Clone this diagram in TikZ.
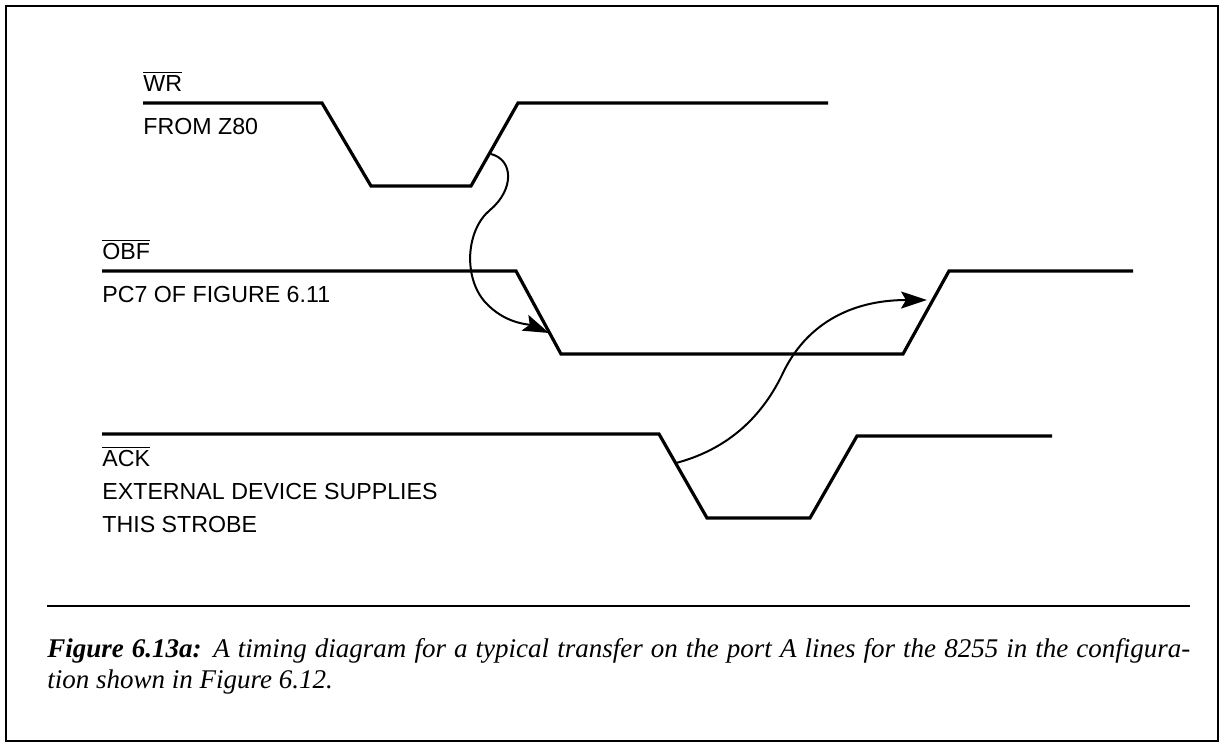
\documentclass[tikz,border=0pt]{standalone}
\usepackage{fontspec}
\setmainfont{Liberation Sans}
\newfontfamily\capfont{Liberation Serif}
\usetikzlibrary{arrows.meta}
\newcommand\ovl[1]{$\overline{\mbox{#1}}$}
\begin{document}
\begin{tikzpicture}[x=0.5pt,y=-0.5pt,
  sig/.style={line width=1.6pt, line join=miter},
  lbl/.style={anchor=base west, inner sep=0pt, font=\fontsize{11.6}{13}\selectfont},
  caption/.style={anchor=base west, inner sep=0pt, font=\capfont\itshape\fontsize{13.5}{15}\selectfont},
  cause/.style={line width=1pt, -{Stealth[length=13pt,width=8.5pt,inset=2.5pt]}}]
\useasboundingbox (0,0) rectangle (1223,745);
\draw[line width=1.2pt] (6,6) rectangle (1218,741);

% WR
\node[lbl] (wrlbl) at (143,91) {\ovl{WR}};
\node[lbl] (wrsub) at (143,134) {FROM Z80};
\draw[sig] (143,103) -- (322,103) -- (371,186) -- (471,186) -- (518,103) -- (828,103);

% OBF
\node[lbl] (obflbl) at (102,259) {\ovl{OBF}};
\node[lbl] (obfsub) at (102,302) {PC7 OF FIGURE 6.11};
\draw[sig] (102,271) -- (516,271) -- (561,354) -- (903,354) -- (949,271) -- (1133,271);

% ACK
\node[lbl] (acklbl) at (102,466) {\ovl{ACK}};
\node[lbl] (acksub1) at (102,499) {EXTERNAL DEVICE SUPPLIES};
\node[lbl] (acksub2) at (102,532) {THIS STROBE};
\draw[sig] (102,434) -- (659,434) -- (707,518) -- (810,518) -- (857,436) -- (1052,436);

% cause arrows
\coordinate (a1s) at (491,154);
\coordinate (a1e) at (549,333);
\coordinate (a2s) at (676,463);
\coordinate (a2e) at (927,300);
\draw[cause] (a1s) .. controls (514,160) and (514,190) .. (490,210)
  .. controls (466,230) and (463,277) .. (485,302)
  .. controls (505,324) and (528,324) .. (a1e);
\draw[cause] (a2s) .. controls (725,450) and (760,420) .. (782,375)
  .. controls (805,325) and (850,300) .. (a2e);

% caption
\draw[line width=1.2pt] (47,606) -- (1190,606);
\node[caption] (cap1) at (47,657) {\makebox[571.5pt][s]{\textbf{Figure 6.13a:} A timing diagram for a typical transfer on the port A lines for the 8255 in the configura-}};
\node[caption] (cap2) at (47,688) {tion shown in Figure 6.12.};
\end{tikzpicture}
\end{document}
